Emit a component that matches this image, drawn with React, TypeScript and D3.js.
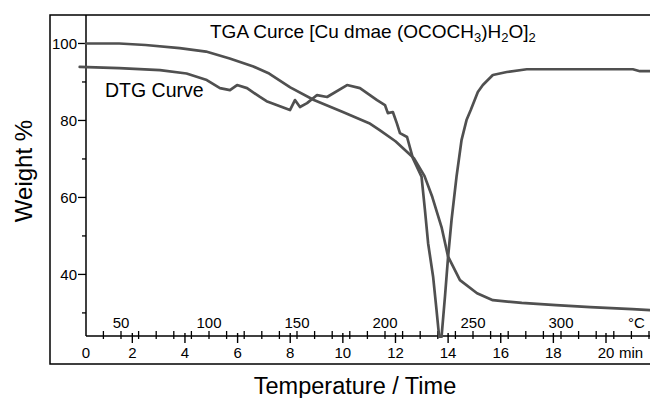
import React from "react";
import * as d3 from "d3";

// TGA curve (weight %), time in minutes
const tgaTime = [0.24, 1.5, 2.5, 3.8, 4.8, 5.7, 6.6, 7.2, 8.0, 8.9, 10.0, 11.0, 11.4, 12.0, 12.7, 13.1, 13.4, 13.75, 14.0, 14.45, 15.1, 15.7, 16.8, 18.1, 19.4, 21.0, 21.7];
const tgaWeight = [100.0, 100.0, 99.6, 98.8, 97.9, 96.1, 94.0, 92.2, 88.6, 85.3, 82.2, 79.3, 77.5, 74.6, 70.2, 65.6, 60.1, 52.3, 44.6, 38.5, 35.1, 33.3, 32.6, 32.0, 31.5, 31.0, 30.7];

// DTG curve
const dtgTime = [0, 1.5, 3.05, 4.06, 4.83, 5.33, 5.71, 5.98, 6.36, 6.85, 7.1, 7.99, 8.18, 8.37, 8.64, 9.02, 9.4, 10.16, 10.65, 11.3, 11.6, 11.71, 11.9, 12.05, 12.17, 12.44, 12.66, 12.99, 13.12, 13.24, 13.43, 13.56, 13.66, 13.75, 13.88, 14.0, 14.13, 14.32, 14.51, 14.7, 14.86, 15.13, 15.32, 15.7, 16.23, 16.99, 18.74, 21.02, 21.29, 21.66];
const dtgWeight = [93.9, 93.6, 93.1, 92.2, 90.5, 88.4, 87.9, 89.2, 88.4, 86.1, 85.0, 82.7, 85.3, 83.5, 84.5, 86.6, 86.1, 89.2, 88.4, 85.3, 84.0, 81.9, 82.2, 79.3, 76.7, 75.7, 70.2, 65.4, 56.7, 48.1, 39.4, 30.7, 23.8, 23.8, 34.2, 44.6, 54.1, 65.4, 74.9, 80.1, 82.7, 87.4, 89.2, 91.8, 92.6, 93.3, 93.3, 93.3, 92.8, 92.8];

const weightTicks = [40, 60, 80, 100];
const weightMinor = [30, 50, 70, 90];
const timeTicks = [0, 2, 4, 6, 8, 10, 12, 14, 16, 18, 20];
const tempLabels = [50, 100, 150, 200, 250, 300];
const tempTicks = d3.range(40, 360, 10);

const font = "'Liberation Sans', Arial, Helvetica, sans-serif";

const App = () => {
  const x = d3.scaleLinear().domain([0, 20]).range([79.7, 606]);
  const y = d3.scaleLinear().domain([24, 107.4]).range([336, 15]);
  const temp = d3.scaleLinear().domain([50, 300]).range([121, 561]);
  const axisX = 86; // where the weight axis sits
  const axisY = y(24);

  const line = d3.line<[number, number]>()
    .x(d => x(d[0]))
    .y(d => y(d[1]))
    .curve(d3.curveLinear);

  const tga = line(tgaTime.map((t, i) => [t, tgaWeight[i]]));
  const dtg = line(dtgTime.map((t, i) => [t, dtgWeight[i]]));

  return (
    <svg width={650} height={398} style={{ position: "absolute", left: 0, top: 0, background: "#fff" }} fontFamily={font}>
      {/* outer frame, open on the right */}
      <path d="M650,15H50V364H650" fill="none" stroke="#000" strokeWidth={1.5} />

      {/* weight axis */}
      <line x1={axisX} x2={axisX} y1={15} y2={axisY} stroke="#000" strokeWidth={1.5} />
      {weightTicks.map(v => (
        <g key={v}>
          <line x1={axisX - 8} x2={axisX} y1={y(v)} y2={y(v)} stroke="#000" strokeWidth={1.3} />
          <text x={axisX - 9} y={y(v)} dy="0.35em" textAnchor="end" fontSize={15}>{v}</text>
        </g>
      ))}
      {weightMinor.map(v => (
        <line key={v} x1={axisX - 4} x2={axisX} y1={y(v)} y2={y(v)} stroke="#000" strokeWidth={1.3} />
      ))}

      {/* time / temperature axis */}
      <line x1={axisX} x2={650} y1={axisY} y2={axisY} stroke="#000" strokeWidth={1.5} />
      {tempTicks.map(v => (
        <line key={v} x1={temp(v)} x2={temp(v)} y1={axisY - 5} y2={axisY + 3} stroke="#000" strokeWidth={1.3} />
      ))}
      {tempLabels.map(v => (
        <text key={v} x={temp(v)} y={328} textAnchor="middle" fontSize={15}>{v}</text>
      ))}
      <text x={628} y={328} fontSize={15}>°C</text>
      {timeTicks.filter(t => t > 0).map(t => (
        <line key={t} x1={x(t)} x2={x(t)} y1={axisY - 3} y2={axisY + 7} stroke="#000" strokeWidth={1.4} />
      ))}
      {timeTicks.map(t => (
        <text key={t} x={Math.max(x(t), axisX)} y={358} textAnchor="middle" fontSize={15}>{t}</text>
      ))}
      <text x={619} y={358} fontSize={15}>min</text>

      {/* curves */}
      <path d={tga ?? ""} fill="none" stroke="#505050" strokeWidth={2.7} strokeLinejoin="round" strokeLinecap="round" />
      <path d={dtg ?? ""} fill="none" stroke="#505050" strokeWidth={2.7} strokeLinejoin="round" strokeLinecap="round" />

      {/* labels */}
      <text x={210} y={38} fontSize={19}>
        TGA Curce [Cu dmae (OCOCH<tspan fontSize={13} dy={4}>3</tspan>
        <tspan dy={-4}>)H</tspan><tspan fontSize={13} dy={4}>2</tspan>
        <tspan dy={-4}>O]</tspan><tspan fontSize={13} dy={4}>2</tspan>
      </text>
      <text x={105} y={97} fontSize={19.5}>DTG Curve</text>
      <text x={355} y={394} textAnchor="middle" fontSize={23.5}>Temperature / Time</text>
      <text transform="translate(32,171) rotate(-90)" textAnchor="middle" fontSize={24}>Weight %</text>
    </svg>
  );
};

export default App;
